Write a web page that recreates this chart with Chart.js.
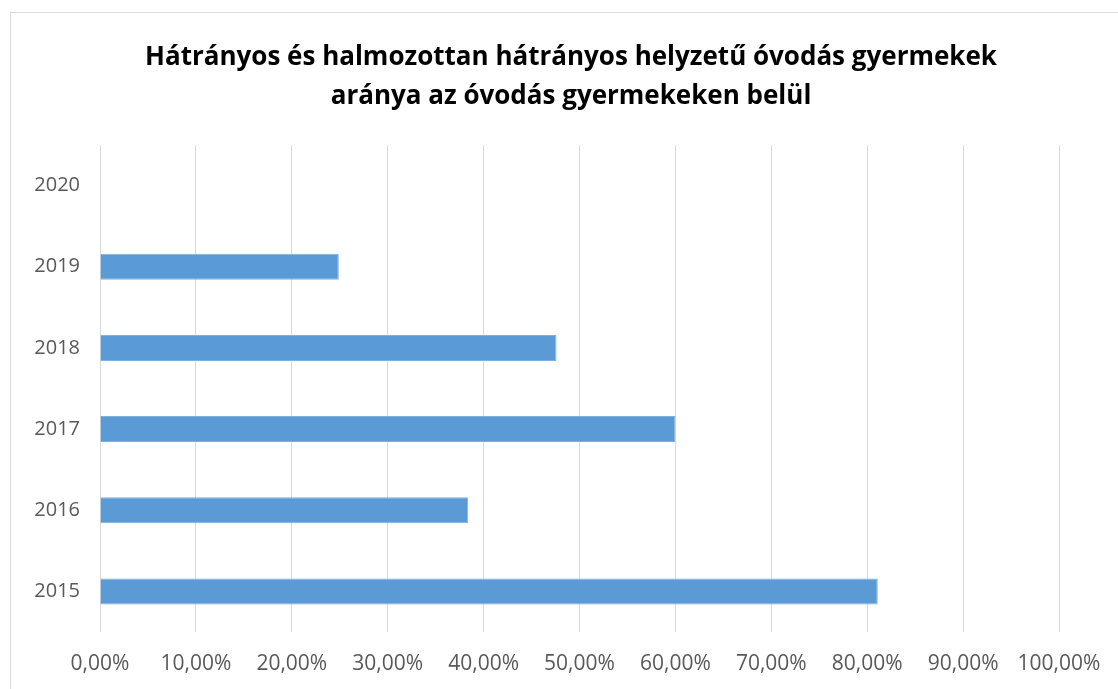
<!DOCTYPE html>
<html lang="hu">
<head>
<meta charset="UTF-8">
<title>Hátrányos helyzetű óvodás gyermekek</title>
<style>
  * { margin: 0; padding: 0; }
  body { background: #fff; width: 1118px; height: 689px; overflow: hidden; position: relative; }
  .frame {
    position: absolute; left: 10px; top: 12px;
    width: 1200px; height: 800px;
    border: 1px solid #d9d9d9;
  }
  .chartBox { position: absolute; left: 0; top: 0; width: 1118px; height: 689px; }
</style>
</head>
<body>
<div class="frame"></div>
<div class="chartBox"><canvas id="myChart"></canvas></div>

<script src="https://cdn.jsdelivr.net/npm/chart.js"></script>
<script>
  // data
  const years = ['2015', '2016', '2017', '2018', '2019', '2020'];
  const shares = [81.1, 38.4, 60.0, 47.6, 24.9, null];   // percent
  const titleLines = [
    'Hátrányos és halmozottan hátrányos helyzetű óvodás gyermekek',
    'aránya az óvodás gyermekeken belül'
  ];

  const fontFamily = "'Open Sans', 'Liberation Sans', sans-serif";

  const data = {
    labels: years,
    datasets: [{
      label: 'Arány',
      data: shares,
      backgroundColor: '#5b9bd5',
      borderColor: '#7eb0de',
      borderWidth: 1,
      categoryPercentage: 1,
      barPercentage: 0.32
    }]
  };

  const config = {
    type: 'bar',
    data,
    options: {
      indexAxis: 'y',
      responsive: false,
      animation: false,
      // left padding shifts the title centre to where it sits in the original
      layout: { padding: { left: 24, right: 0, top: 0, bottom: 0 } },
      plugins: {
        legend: { display: false },
        tooltip: { enabled: false },
        title: {
          display: true,
          text: titleLines,
          color: '#000',
          font: { family: fontFamily, size: 26, weight: 'bold', lineHeight: 1.5 },
          padding: { top: 38, bottom: 29 }
        }
      },
      scales: {
        x: {
          min: 0,
          max: 100,
          ticks: {
            stepSize: 10,
            padding: 19,
            color: '#595959',
            font: { family: fontFamily, size: 21 },
            maxRotation: 0,
            callback: v => v.toFixed(2).replace('.', ',') + '%'
          },
          grid: { color: '#d9d9d9', lineWidth: 1, drawTicks: false },
          border: { display: false },
          afterFit(scale) {
            scale.height = 57;
            scale.paddingRight = 59;
          }
        },
        y: {
          reverse: true,
          ticks: {
            padding: 20,
            color: '#595959',
            font: { family: fontFamily, size: 20 }
          },
          grid: { display: false, drawTicks: false },
          border: { display: false },
          afterFit(scale) { scale.width = 76; }
        }
      }
    }
  };

  const canvas = document.getElementById('myChart');
  canvas.width = 1118;
  canvas.height = 689;
  const myChart = new Chart(canvas, config);
</script>
</body>
</html>
